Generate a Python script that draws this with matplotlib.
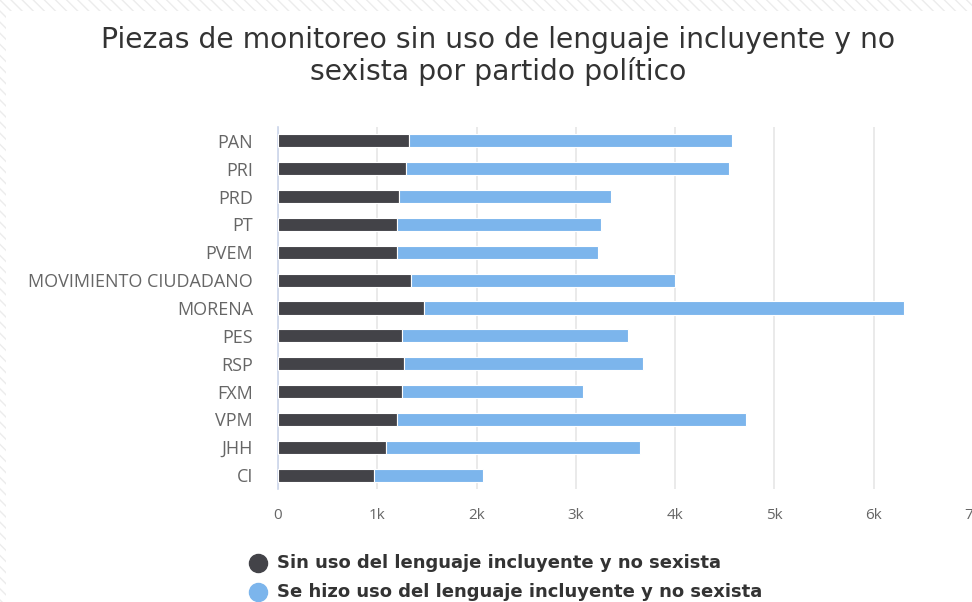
#!/usr/bin/env python3
"""Piezas de monitoreo sin uso de lenguaje incluyente, por partido."""

import matplotlib
matplotlib.use('Agg')
import matplotlib.pyplot as plt
from matplotlib.patches import Rectangle
from matplotlib.lines import Line2D
from matplotlib.ticker import FuncFormatter

# Data
parties = ['PAN', 'PRI', 'PRD', 'PT', 'PVEM', 'MOVIMIENTO CIUDADANO', 'MORENA',
           'PES', 'RSP', 'FXM', 'VPM', 'JHH', 'CI']
sin_uso = [1316, 1286, 1215, 1198, 1198, 1336, 1467, 1249, 1266, 1249, 1198, 1085, 967]
con_uso = [3259, 3254, 2135, 2052, 2022, 2664, 4843, 2281, 2414, 1821, 3512, 2565, 1093]
series_labels = ['Sin uso del lenguaje incluyente y no sexista',
                 'Se hizo uso del lenguaje incluyente y no sexista']
x_ticks = [0, 1000, 2000, 3000, 4000, 5000, 6000, 7000]

DARK = '#434348'
LIGHT = '#7cb5ec'

fig = plt.figure(figsize=(9.72, 6.02), dpi=100)

# faint striped frame around the white panel
bg = Rectangle((0, 0), 1, 1, transform=fig.transFigure, facecolor='white',
               edgecolor='#ececec', hatch='\\\\\\', linewidth=0, zorder=-3)
fig.add_artist(bg)
panel = Rectangle((6 / 972, 0), 1, 1 - 11 / 602, transform=fig.transFigure,
                  facecolor='white', edgecolor='none', zorder=-2)
fig.add_artist(panel)

ax = fig.add_axes([278 / 972, 1 - 489 / 602, 695 / 972, 362 / 602])
ax.set_facecolor('none')

ypos = list(range(len(parties)))
ax.barh(ypos, sin_uso, height=0.47, color=DARK, edgecolor='white', linewidth=0.8, zorder=3)
ax.barh(ypos, con_uso, left=sin_uso, height=0.47, color=LIGHT, edgecolor='white',
        linewidth=0.8, zorder=3)

ax.set_ylim(len(parties) - 0.5, -0.5)
ax.set_xlim(0, 7000)
ax.set_yticks(ypos)
ax.set_yticklabels(parties, fontsize=13, color='#666666', fontfamily='Open Sans')
ax.set_xticks(x_ticks)
ax.xaxis.set_major_formatter(FuncFormatter(lambda v, p: '0' if v == 0 else f'{int(v / 1000)}k'))
ax.tick_params(axis='x', length=0, pad=14, labelsize=11, labelcolor='#666666')
ax.tick_params(axis='y', length=0, pad=18)
for lbl in ax.get_xticklabels():
    lbl.set_fontfamily('Open Sans')

ax.grid(axis='x', color='#e6e6e6', linewidth=1.2, zorder=0)
for side in ['top', 'right', 'bottom']:
    ax.spines[side].set_visible(False)
ax.spines['left'].set_color('#ccd6eb')
ax.spines['left'].set_linewidth(1.2)

# title
fig.text(498 / 972, 1 - 56 / 602,
         'Piezas de monitoreo sin uso de lenguaje incluyente y no\nsexista por partido político',
         ha='center', va='center', fontsize=20.3, color='#333333', linespacing=1.1,
         fontfamily='DejaVu Sans')

# legend
for i, (label, color) in enumerate(zip(series_labels, [DARK, LIGHT])):
    yy = 1 - (563 + i * 29) / 602
    fig.add_artist(Line2D([258 / 972], [yy], marker='o', markersize=13, color=color,
                          linestyle='none', transform=fig.transFigure))
    fig.text(277 / 972, yy, label, ha='left', va='center', fontsize=13,
             fontweight='bold', color='#333333', fontfamily='DejaVu Sans')

fig.savefig('out.png', dpi=100)
